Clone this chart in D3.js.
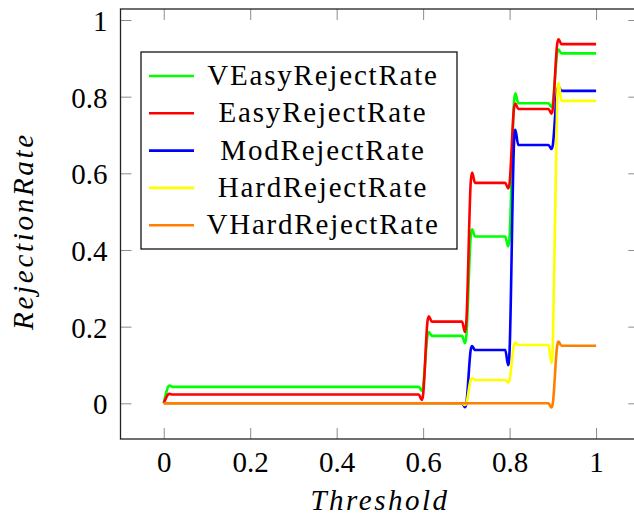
<!DOCTYPE html>
<html>
<head>
<meta charset="utf-8">
<script src="https://cdn.jsdelivr.net/npm/d3@7"></script>
<style>
  @font-face { font-family: "ChartSerif"; font-style: normal;
    src: local("Liberation Serif"), local("LiberationSerif"), local("DejaVu Serif"), local("DejaVuSerif"); }
  @font-face { font-family: "ChartSerif"; font-style: italic;
    src: local("Liberation Serif Italic"), local("LiberationSerif-Italic"), local("DejaVu Serif Italic"), local("DejaVuSerif-Italic"); }
  html, body { margin: 0; padding: 0; background: #fff; }
  svg { display: block; font-family: "Liberation Serif", "ChartSerif", "DejaVu Serif", serif; }
</style>
</head>
<body>
<svg id="chart" width="634" height="516" font-family="Liberation Serif"></svg>
<script>
// Threshold sweep (x values)
const thresholds = [
  0.00, 0.01, 0.02, 0.03, 0.04, 0.05, 0.06, 0.07, 0.08, 0.09,
  0.10, 0.11, 0.12, 0.13, 0.14, 0.15, 0.16, 0.17, 0.18, 0.19,
  0.20, 0.21, 0.22, 0.23, 0.24, 0.25, 0.26, 0.27, 0.28, 0.29,
  0.30, 0.31, 0.32, 0.33, 0.34, 0.35, 0.36, 0.37, 0.38, 0.39,
  0.40, 0.41, 0.42, 0.43, 0.44, 0.45, 0.46, 0.47, 0.48, 0.49,
  0.50, 0.51, 0.52, 0.53, 0.54, 0.55, 0.56, 0.57, 0.58, 0.59,
  0.60, 0.61, 0.62, 0.63, 0.64, 0.65, 0.66, 0.67, 0.68, 0.69,
  0.70, 0.71, 0.72, 0.73, 0.74, 0.75, 0.76, 0.77, 0.78, 0.79,
  0.80, 0.81, 0.82, 0.83, 0.84, 0.85, 0.86, 0.87, 0.88, 0.89,
  0.90, 0.91, 0.92, 0.93, 0.94, 0.95, 0.96, 0.97, 0.98, 0.99,
  1.00
];

// Rejection rate per difficulty class, one value per threshold
const vEasyRejectRate = [
  0,     0.043, 0.043, 0.043, 0.043, 0.043, 0.043, 0.043, 0.043, 0.043,
  0.043, 0.043, 0.043, 0.043, 0.043, 0.043, 0.043, 0.043, 0.043, 0.043,
  0.043, 0.043, 0.043, 0.043, 0.043, 0.043, 0.043, 0.043, 0.043, 0.043,
  0.043, 0.043, 0.043, 0.043, 0.043, 0.043, 0.043, 0.043, 0.043, 0.043,
  0.043, 0.043, 0.043, 0.043, 0.043, 0.043, 0.043, 0.043, 0.043, 0.043,
  0.043, 0.043, 0.043, 0.043, 0.043, 0.043, 0.043, 0.043, 0.043, 0.043,
  0.043, 0.176, 0.176, 0.176, 0.176, 0.176, 0.176, 0.176, 0.176, 0.176,
  0.176, 0.435, 0.435, 0.435, 0.435, 0.435, 0.435, 0.435, 0.435, 0.435,
  0.435, 0.783, 0.783, 0.783, 0.783, 0.783, 0.783, 0.783, 0.783, 0.783,
  0.783, 0.913, 0.913, 0.913, 0.913, 0.913, 0.913, 0.913, 0.913, 0.913,
  0.913
];

const easyRejectRate = [
  0,     0.023, 0.023, 0.023, 0.023, 0.023, 0.023, 0.023, 0.023, 0.023,
  0.023, 0.023, 0.023, 0.023, 0.023, 0.023, 0.023, 0.023, 0.023, 0.023,
  0.023, 0.023, 0.023, 0.023, 0.023, 0.023, 0.023, 0.023, 0.023, 0.023,
  0.023, 0.023, 0.023, 0.023, 0.023, 0.023, 0.023, 0.023, 0.023, 0.023,
  0.023, 0.023, 0.023, 0.023, 0.023, 0.023, 0.023, 0.023, 0.023, 0.023,
  0.023, 0.023, 0.023, 0.023, 0.023, 0.023, 0.023, 0.023, 0.023, 0.023,
  0.023, 0.213, 0.213, 0.213, 0.213, 0.213, 0.213, 0.213, 0.213, 0.213,
  0.213, 0.575, 0.575, 0.575, 0.575, 0.575, 0.575, 0.575, 0.575, 0.575,
  0.575, 0.768, 0.768, 0.768, 0.768, 0.768, 0.768, 0.768, 0.768, 0.768,
  0.768, 0.937, 0.937, 0.937, 0.937, 0.937, 0.937, 0.937, 0.937, 0.937,
  0.937
];

const modRejectRate = [
  0, 0, 0, 0, 0, 0, 0, 0, 0, 0,
  0, 0, 0, 0, 0, 0, 0, 0, 0, 0,
  0, 0, 0, 0, 0, 0, 0, 0, 0, 0,
  0, 0, 0, 0, 0, 0, 0, 0, 0, 0,
  0, 0, 0, 0, 0, 0, 0, 0, 0, 0,
  0, 0, 0, 0, 0, 0, 0, 0, 0, 0,
  0, 0, 0, 0, 0, 0, 0, 0, 0, 0,
  0,     0.139, 0.139, 0.139, 0.139, 0.139, 0.139, 0.139, 0.139, 0.139,
  0.139, 0.674, 0.674, 0.674, 0.674, 0.674, 0.674, 0.674, 0.674, 0.674,
  0.674, 0.815, 0.815, 0.815, 0.815, 0.815, 0.815, 0.815, 0.815, 0.815,
  0.815
];

const hardRejectRate = [
  0, 0, 0, 0, 0, 0, 0, 0, 0, 0,
  0, 0, 0, 0, 0, 0, 0, 0, 0, 0,
  0, 0, 0, 0, 0, 0, 0, 0, 0, 0,
  0, 0, 0, 0, 0, 0, 0, 0, 0, 0,
  0, 0, 0, 0, 0, 0, 0, 0, 0, 0,
  0, 0, 0, 0, 0, 0, 0, 0, 0, 0,
  0, 0, 0, 0, 0, 0, 0, 0, 0, 0,
  0,     0.061, 0.061, 0.061, 0.061, 0.061, 0.061, 0.061, 0.061, 0.061,
  0.061, 0.152, 0.152, 0.152, 0.152, 0.152, 0.152, 0.152, 0.152, 0.152,
  0.152, 0.789, 0.789, 0.789, 0.789, 0.789, 0.789, 0.789, 0.789, 0.789,
  0.789
];

const vHardRejectRate = [
  0, 0, 0, 0, 0, 0, 0, 0, 0, 0,
  0, 0, 0, 0, 0, 0, 0, 0, 0, 0,
  0, 0, 0, 0, 0, 0, 0, 0, 0, 0,
  0, 0, 0, 0, 0, 0, 0, 0, 0, 0,
  0, 0, 0, 0, 0, 0, 0, 0, 0, 0,
  0, 0, 0, 0, 0, 0, 0, 0, 0, 0,
  0, 0, 0, 0, 0, 0, 0, 0, 0, 0,
  0, 0, 0, 0, 0, 0, 0, 0, 0, 0,
  0, 0, 0, 0, 0, 0, 0, 0, 0, 0,
  0,     0.150, 0.150, 0.150, 0.150, 0.150, 0.150, 0.150, 0.150, 0.150,
  0.150
];

const seriesNames = ["VEasyRejectRate", "EasyRejectRate", "ModRejectRate", "HardRejectRate", "VHardRejectRate"];
const seriesValues = [vEasyRejectRate, easyRejectRate, modRejectRate, hardRejectRate, vHardRejectRate];
const seriesColors = ["#00ff00", "#ff0000", "#0000ff", "#ffff00", "#ff8000"];

const xTicks = [0, 0.2, 0.4, 0.6, 0.8, 1];
const yTicks = [0, 0.2, 0.4, 0.6, 0.8, 1];
const xLabel = "Threshold";
const yLabel = "RejectionRate";

(function draw() {
  // Plot area
  const plotLeft = 120.5, plotRight = 639.3, plotTop = 9, plotBottom = 439;
  const fontSize = 29;
  const tickLen = 11;

  const svg = d3.select("#chart");

  const x = d3.scaleLinear().domain([-0.1, 1.1]).range([plotLeft, plotRight]);
  const y = d3.scaleLinear().domain([-0.0931, 1.0287]).range([plotBottom, plotTop]);

  const fmt = d => String(+d.toFixed(1));

  // Bottom axis with labels, ticks pointing into the plot
  const gx = svg.append("g")
    .attr("transform", `translate(0,${plotBottom})`)
    .call(d3.axisBottom(x).tickValues(xTicks).tickSize(-tickLen).tickPadding(12.4).tickFormat(fmt));
  // Left axis with labels
  const gy = svg.append("g")
    .attr("transform", `translate(${plotLeft},0)`)
    .call(d3.axisLeft(y).tickValues(yTicks).tickSize(-tickLen).tickPadding(13).tickFormat(fmt));
  // Mirrored ticks on top and right
  const gxt = svg.append("g")
    .attr("transform", `translate(0,${plotTop})`)
    .call(d3.axisTop(x).tickValues(xTicks).tickSize(-tickLen).tickFormat(""));
  const gyr = svg.append("g")
    .attr("transform", `translate(${plotRight},0)`)
    .call(d3.axisRight(y).tickValues(yTicks).tickSize(-tickLen).tickFormat(""));

  [gx, gy, gxt, gyr].forEach(g => {
    // let the serif face set on the svg root be inherited
    g.attr("font-family", null).attr("font-size", null);
    g.select(".domain").remove();
    g.selectAll(".tick line").attr("stroke", "#8c8c8c").attr("stroke-width", 1);
    g.selectAll(".tick text")
      .attr("font-size", fontSize)
      .attr("fill", "#000");
  });
  gy.selectAll(".tick text").attr("dy", "0.36em");

  // Frame
  svg.append("rect")
    .attr("x", plotLeft).attr("y", plotTop)
    .attr("width", plotRight - plotLeft).attr("height", plotBottom - plotTop)
    .attr("fill", "none").attr("stroke", "#222").attr("stroke-width", 1.3);

  // Clip data to plot area
  svg.append("clipPath").attr("id", "plotClip")
    .append("rect").attr("x", plotLeft).attr("y", plotTop)
    .attr("width", plotRight - plotLeft).attr("height", plotBottom - plotTop);

  const line = d3.line()
    .x((d, i) => x(thresholds[i]))
    .y(d => y(d))
    .curve(d3.curveCardinal.tension(0));

  const plot = svg.append("g").attr("clip-path", "url(#plotClip)");
  seriesValues.forEach((vals, k) => {
    plot.append("path")
      .datum(vals)
      .attr("d", line)
      .attr("fill", "none")
      .attr("stroke", seriesColors[k])
      .attr("stroke-width", 2.6)
      .attr("stroke-linejoin", "round");
  });

  // Legend
  const legend = svg.append("g");
  legend.append("rect")
    .attr("x", 141).attr("y", 52).attr("width", 316).attr("height", 197)
    .attr("fill", "#fff").attr("stroke", "#000").attr("stroke-width", 1.2);
  seriesNames.forEach((name, k) => {
    const ry = 76 + k * 37.3;
    legend.append("line")
      .attr("x1", 149).attr("x2", 194).attr("y1", ry).attr("y2", ry)
      .attr("stroke", seriesColors[k]).attr("stroke-width", 2.6);
    legend.append("text")
      .attr("x", 323).attr("y", ry + 9)
      .attr("text-anchor", "middle")
      .attr("font-size", fontSize)
      .attr("letter-spacing", "1.8px")
      .text(name);
  });

  // Axis titles
  svg.append("text")
    .attr("x", 380).attr("y", 510)
    .attr("text-anchor", "middle")
    .attr("font-size", fontSize)
    .attr("font-style", "italic")
    .attr("letter-spacing", "2.5px")
    .text(xLabel);

  svg.append("text")
    .attr("transform", "translate(33,231) rotate(-90)")
    .attr("text-anchor", "middle")
    .attr("font-size", fontSize)
    .attr("font-style", "italic")
    .attr("letter-spacing", "2.7px")
    .text(yLabel);
})();
</script>
</body>
</html>
